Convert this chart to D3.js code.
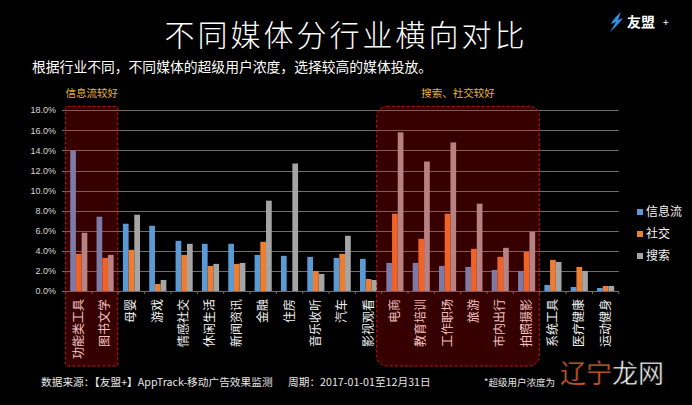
<!DOCTYPE html>
<html>
<head>
<meta charset="utf-8">
<script src="https://cdn.jsdelivr.net/npm/d3@7"></script>
<style>
  html, body { margin: 0; padding: 0; background: #000; }
  svg { display: block; font-family: "Noto Sans CJK SC", "Noto Sans", sans-serif; }
</style>
</head>
<body>
<svg id="chart" width="692" height="405"></svg>
<script>
// categories (industries) and super-user concentration per media, in %
const categories = ['功能类工具', '图书文学', '母婴', '游戏', '情感社交', '休闲生活', '新闻资讯', '金融', '住房', '音乐收听', '汽车', '影视观看',
  '电商', '教育培训', '工作职场', '旅游', '市内出行', '拍照摄影', '系统工具', '医疗健康', '运动健身'];
const feedValues   = [14.0, 7.4, 6.7, 6.5, 5.0, 4.7, 4.7, 3.6, 3.5, 3.4, 3.3, 3.2, 2.8, 2.8, 2.5, 2.4, 2.1, 2.0, 0.6, 0.4, 0.3];
const socialValues = [3.7, 3.3, 4.1, 0.7, 3.6, 2.5, 2.7, 4.9, 0.0, 2.0, 3.7, 1.2, 7.7, 5.2, 7.7, 4.2, 3.4, 3.9, 3.1, 2.4, 0.5];
const searchValues = [5.8, 3.6, 7.6, 1.1, 4.7, 2.7, 2.8, 9.0, 12.7, 1.7, 5.5, 1.1, 15.8, 12.9, 14.8, 8.7, 4.3, 5.9, 2.9, 2.0, 0.5];
const seriesNames  = ['信息流', '社交', '搜索'];
const yTicks = [0, 2, 4, 6, 8, 10, 12, 14, 16, 18];

const colors = ['#5b9bd5', '#ed7d31', '#a5a5a5'];
const series = [feedValues, socialValues, searchValues];

const svg = d3.select('#chart');
const W = 692, H = 405;
svg.append('rect').attr('width', W).attr('height', H).attr('fill', '#000');

const plotLeft = 65.6, plotRight = 618.8, plotTop = 110.3, plotBottom = 291;

var x = d3.scaleBand().domain(categories).range([plotLeft, plotRight]).paddingInner(0.35).paddingOuter(0.175);
var xs = d3.scaleBand().domain(d3.range(series.length)).range([0, x.bandwidth()]);
var y = d3.scaleLinear().domain([0, 18]).range([plotBottom, plotTop]);

// title block
svg.append('text').attr('x', 346).attr('y', 46).attr('text-anchor', 'middle')
  .attr('fill', '#fff').attr('font-size', 30).attr('font-weight', 300)
  .attr('letter-spacing', 3)
  .text('不同媒体分行业横向对比');
svg.append('text').attr('x', 32).attr('y', 72)
  .attr('fill', '#fff').attr('font-size', 13.8)
  .text('根据行业不同，不同媒体的超级用户浓度，选择较高的媒体投放。');

// logo
var logo = svg.append('g').attr('transform', 'translate(608,12)');
logo.append('path').attr('d', 'M13,0 C9,4 5,7 3,12 L8,10 L2,20 C7,15 12,11 15,6 L10,8 Z').attr('fill', '#2f8fe0');
logo.append('text').attr('x', 19).attr('y', 15).attr('fill', '#fff').attr('font-size', 14).attr('font-weight', 700).text('友盟');
logo.append('text').attr('x', 55).attr('y', 14).attr('fill', '#fff').attr('font-size', 10).text('+');

// grid + y axis
var gy = svg.append('g');
gy.selectAll('line').data(yTicks).join('line')
  .attr('x1', 62).attr('x2', plotRight)
  .attr('y1', d => Math.round(y(d)) + 0.5).attr('y2', d => Math.round(y(d)) + 0.5)
  .attr('stroke', '#6e6e6e').attr('stroke-width', 1);
gy.selectAll('text').data(yTicks).join('text')
  .attr('x', 56).attr('y', d => y(d)).attr('dy', '0.35em')
  .attr('text-anchor', 'end').attr('fill', '#d9d9d9').attr('font-size', 9)
  .attr('font-family', 'Liberation Sans, Arial, sans-serif')
  .text(d => d.toFixed(1) + '%');

// x ticks at band boundaries
svg.append('g').selectAll('line').data(d3.range(categories.length + 1)).join('line')
  .attr('x1', i => plotLeft + i * x.step()).attr('x2', i => plotLeft + i * x.step())
  .attr('y1', plotBottom).attr('y2', plotBottom + 3)
  .attr('stroke', '#6e6e6e');

// bars
const groups = svg.append('g').selectAll('g').data(categories).join('g')
  .attr('transform', d => 'translate(' + x(d) + ',0)');
groups.selectAll('rect').data((d, i) => series.map((s, k) => ({ k: k, v: s[i] }))).join('rect')
  .attr('x', d => xs(d.k)).attr('width', xs.bandwidth())
  .attr('y', d => y(d.v)).attr('height', d => y(0) - y(d.v))
  .attr('fill', d => colors[d.k]);

// x labels (rotated)
svg.append('g').selectAll('text').data(categories).join('text')
  .attr('transform', d => 'translate(' + (x(d) + x.bandwidth() / 2 + 4) + ',299) rotate(-90)')
  .attr('text-anchor', 'end').attr('fill', '#f2f2f2').attr('font-size', 12)
  .text(d => d);

// highlight boxes
var boxes = [
  { from: 0, to: 2, padL: 0, r: 2, label: '信息流较好' },
  { from: 12, to: 18, padL: 5, r: 10, label: '搜索、社交较好' }
];
boxes.forEach(b => {
  var x1 = plotLeft + b.from * x.step() - b.padL;
  var x2 = plotLeft + b.to * x.step() - 0.5;
  svg.append('rect')
    .attr('x', x1).attr('y', y(18) - 4)
    .attr('width', x2 - x1).attr('height', 366 - (y(18) - 4))
    .attr('rx', b.r)
    .attr('fill', 'rgba(255,0,0,0.21)')
    .attr('stroke', '#d01010').attr('stroke-width', 1).attr('stroke-dasharray', '3,2');
  svg.append('text').attr('x', (x1 + x2) / 2).attr('y', 97).attr('text-anchor', 'middle')
    .attr('fill', '#e3b53a').attr('font-size', 10.5).text(b.label);
});

// legend
var legend = svg.append('g').attr('transform', 'translate(637,212)');
seriesNames.forEach((name, i) => {
  var row = legend.append('g').attr('transform', 'translate(0,' + i * 22 + ')');
  row.append('rect').attr('x', 0).attr('y', -3).attr('width', 6).attr('height', 6).attr('fill', colors[i]);
  row.append('text').attr('x', 9).attr('y', 0).attr('dy', '0.36em')
    .attr('fill', '#f2f2f2').attr('font-size', 12).text(name);
});

// footer
svg.append('text').attr('x', 41).attr('y', 386).attr('fill', '#e6e6e6').attr('font-size', 10.7)
  .text('数据来源：【友盟+】AppTrack-移动广告效果监测');
svg.append('text').attr('x', 288).attr('y', 386).attr('fill', '#e6e6e6').attr('font-size', 10.7)
  .text('周期：2017-01-01至12月31日');
svg.append('text').attr('x', 484).attr('y', 386).attr('fill', '#e6e6e6').attr('font-size', 9.5)
  .text('*超级用户浓度为');

// watermark
var wm = svg.append('text').attr('x', 560).attr('y', 383).attr('font-size', 26)
  .attr('stroke', '#222').attr('stroke-width', 0.6);
wm.append('tspan').attr('fill', '#e8561e').text('辽宁');
wm.append('tspan').attr('fill', '#ffffff').text('龙网');
</script>
</body>
</html>
